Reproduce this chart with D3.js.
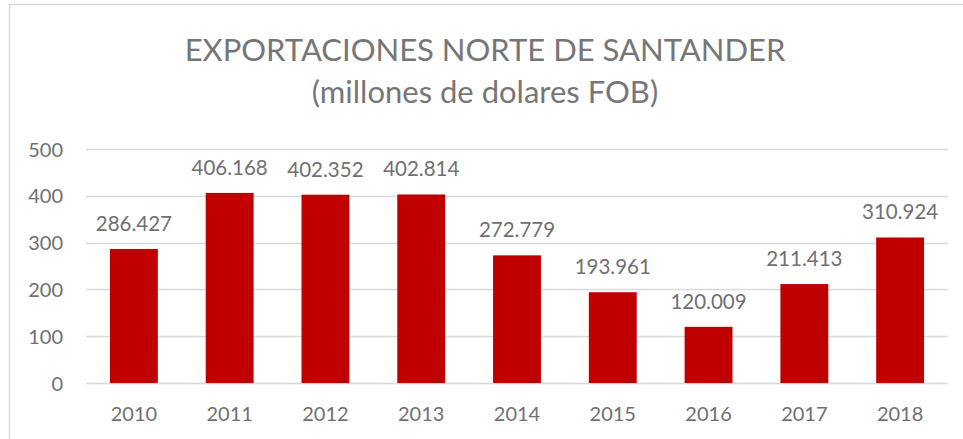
<!DOCTYPE html>
<html>
<head>
<meta charset="utf-8">
<title>Exportaciones Norte de Santander</title>
<script src="https://d3js.org/d3.v7.min.js"></script>
<style>
  body { margin: 0; background: #fff; }
  text { font-family: Lato, "Open Sans", sans-serif; }
</style>
</head>
<body>
<script>
var years = ["2010", "2011", "2012", "2013", "2014", "2015", "2016", "2017", "2018"];
var exportsFob = [286.427, 406.168, 402.352, 402.814, 272.779, 193.961, 120.009, 211.413, 310.924];
var yTicks = [0, 100, 200, 300, 400, 500];
var titleLines = ["EXPORTACIONES NORTE DE SANTANDER", "(millones de dolares FOB)"];

var width = 963, height = 439;
var plot = {left: 86, right: 948, top: 149, bottom: 383};

var svg = d3.select("body").append("svg")
  .attr("width", width)
  .attr("height", height);

// chart frame (only top and left edges are visible in the picture)
svg.append("rect")
  .attr("x", 9.5).attr("y", 4.5)
  .attr("width", 1000).attr("height", 500)
  .attr("fill", "none")
  .attr("stroke", "#d9d9d9")
  .attr("stroke-width", 1.5);

var x = d3.scaleBand()
  .domain(years)
  .range([plot.left, plot.right])
  .paddingInner(0.5)
  .paddingOuter(0.25);

var y = d3.scaleLinear()
  .domain([0, 500])
  .range([plot.bottom, plot.top]);

// gridlines
svg.append("g")
  .selectAll("line")
  .data(yTicks)
  .enter()
  .append("line")
  .attr("x1", plot.left).attr("x2", plot.right)
  .attr("y1", function(d) { return Math.round(y(d)) + 0.5; })
  .attr("y2", function(d) { return Math.round(y(d)) + 0.5; })
  .attr("stroke", "#d9d9d9")
  .attr("stroke-width", 1.5);

// y axis labels
var yAxis = d3.axisLeft(y).tickValues(yTicks).tickSize(0).tickPadding(0);
svg.append("g")
  .attr("transform", "translate(63,0)")
  .call(yAxis)
  .call(function(g) {
    g.select(".domain").remove();
    g.selectAll("text")
      .attr("fill", "#707070")
      .style("font-size", "20px")
      .attr("dy", "0.35em");
  });

// x axis labels
var xAxis = d3.axisBottom(x).tickSize(0).tickPadding(0);
svg.append("g")
  .attr("transform", "translate(0,407)")
  .call(xAxis)
  .call(function(g) {
    g.select(".domain").remove();
    g.selectAll("text")
      .attr("fill", "#707070")
      .style("font-size", "20px")
      .attr("dy", "0.71em");
  });

// bars
svg.append("g")
  .selectAll("rect")
  .data(exportsFob)
  .enter()
  .append("rect")
  .attr("x", function(d, i) { return x(years[i]); })
  .attr("width", x.bandwidth())
  .attr("y", function(d) { return y(d); })
  .attr("height", function(d) { return y(0) - y(d); })
  .attr("fill", "#c00000");

// data labels
svg.append("g")
  .selectAll("text")
  .data(exportsFob)
  .enter()
  .append("text")
  .attr("x", function(d, i) { return x(years[i]) + x.bandwidth() / 2; })
  .attr("y", function(d) { return y(d) - 18; })
  .attr("text-anchor", "middle")
  .attr("fill", "#707070")
  .style("font-size", "20.5px")
  .text(function(d) { return d3.format(".3f")(d); });

// title
svg.append("g")
  .selectAll("text")
  .data(titleLines)
  .enter()
  .append("text")
  .attr("x", 485)
  .attr("y", function(d, i) { return 61 + i * 42; })
  .attr("text-anchor", "middle")
  .attr("fill", "#767676")
  .style("font-size", "31px")
  .style("font-weight", 400)
  .text(function(d) { return d; });
</script>
</body>
</html>
